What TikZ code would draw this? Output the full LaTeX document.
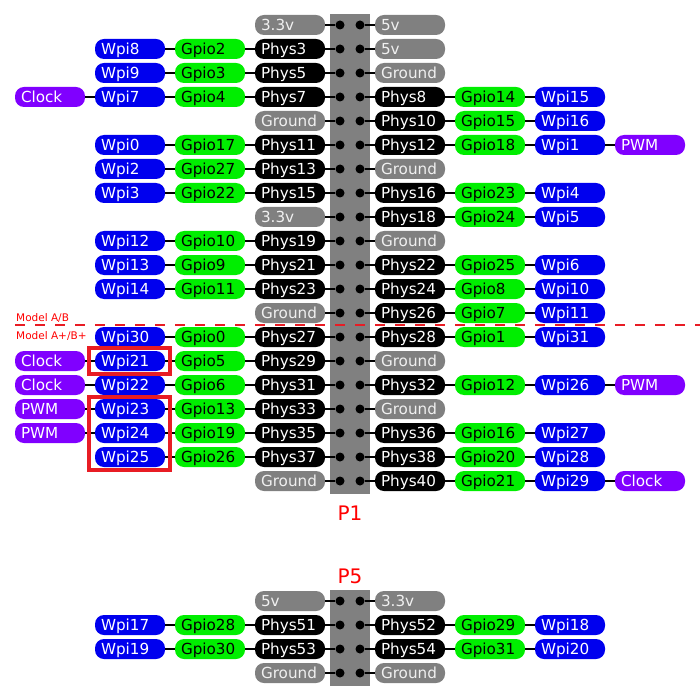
\documentclass[tikz,border=0pt]{standalone}
\usepackage{fontspec}
\setmainfont{DejaVu Sans}
\usetikzlibrary{calc}
\definecolor{cgray}{RGB}{128,128,128}
\definecolor{cgreen}{RGB}{0,238,0}
\definecolor{cblue}{RGB}{0,0,238}
\definecolor{cpurple}{RGB}{128,0,255}
\definecolor{cred}{RGB}{232,28,36}
\definecolor{ctxt}{RGB}{240,240,240}
\newcommand\pinside[4]{%
  \node[dot] (#1d) at ({350+10*#3},#2) {};
  \foreach \sty/\lab [count=\i] in {#4} {
    \pgfmathsetmacro\xx{350+#3*(60+80*(\i-1))}
    \node[\sty] (#1n\i) at (\xx,#2) {\lab};
    \pgfmathtruncatemacro\j{\i-1}
    \ifnum\i=1 \draw[wire] (#1d) -- (#1n\i); \else \draw[wire] (#1n\j) -- (#1n\i); \fi
  }%
}
\begin{document}
\begin{tikzpicture}[x=1pt,y=-1pt,
  box/.style={rectangle, rounded corners=9pt, minimum height=20pt, text width=58pt,
    align=left, inner xsep=6pt, inner ysep=0pt, text height=13pt, text depth=2pt,
    font=\fontsize{15.2pt}{18pt}\selectfont},
  pwr/.style={box, fill=cgray, text=ctxt},
  phys/.style={box, fill=black, text=white},
  gpio/.style={box, fill=cgreen, text=black},
  wpi/.style={box, fill=cblue, text=white},
  fn/.style={box, fill=cpurple, text=white},
  dot/.style={circle, fill=black, inner sep=0pt, minimum size=9pt},
  wire/.style={line width=2.5pt, black},
  redline/.style={draw=cred, line width=4pt},
  plabel/.style={text=red, font=\fontsize{20pt}{24pt}\selectfont, inner sep=0pt, anchor=base},
  mlabel/.style={text=red, font=\fontsize{10.5pt}{12pt}\selectfont, inner sep=0pt, anchor=base west}]
\useasboundingbox (0,0) rectangle (700,700);
\fill[cgray] (330,14) rectangle (370,494);
\fill[cgray] (330,590) rectangle (370,686);
% P1
\pinside{a1l}{25}{-1}{pwr/3.3v}
\pinside{a1r}{25}{1}{pwr/5v}
\pinside{a2l}{49}{-1}{phys/Phys3,gpio/Gpio2,wpi/Wpi8}
\pinside{a2r}{49}{1}{pwr/5v}
\pinside{a3l}{73}{-1}{phys/Phys5,gpio/Gpio3,wpi/Wpi9}
\pinside{a3r}{73}{1}{pwr/Ground}
\pinside{a4l}{97}{-1}{phys/Phys7,gpio/Gpio4,wpi/Wpi7,fn/Clock}
\pinside{a4r}{97}{1}{phys/Phys8,gpio/Gpio14,wpi/Wpi15}
\pinside{a5l}{121}{-1}{pwr/Ground}
\pinside{a5r}{121}{1}{phys/Phys10,gpio/Gpio15,wpi/Wpi16}
\pinside{a6l}{145}{-1}{phys/Phys11,gpio/Gpio17,wpi/Wpi0}
\pinside{a6r}{145}{1}{phys/Phys12,gpio/Gpio18,wpi/Wpi1,fn/PWM}
\pinside{a7l}{169}{-1}{phys/Phys13,gpio/Gpio27,wpi/Wpi2}
\pinside{a7r}{169}{1}{pwr/Ground}
\pinside{a8l}{193}{-1}{phys/Phys15,gpio/Gpio22,wpi/Wpi3}
\pinside{a8r}{193}{1}{phys/Phys16,gpio/Gpio23,wpi/Wpi4}
\pinside{a9l}{217}{-1}{pwr/3.3v}
\pinside{a9r}{217}{1}{phys/Phys18,gpio/Gpio24,wpi/Wpi5}
\pinside{a10l}{241}{-1}{phys/Phys19,gpio/Gpio10,wpi/Wpi12}
\pinside{a10r}{241}{1}{pwr/Ground}
\pinside{a11l}{265}{-1}{phys/Phys21,gpio/Gpio9,wpi/Wpi13}
\pinside{a11r}{265}{1}{phys/Phys22,gpio/Gpio25,wpi/Wpi6}
\pinside{a12l}{289}{-1}{phys/Phys23,gpio/Gpio11,wpi/Wpi14}
\pinside{a12r}{289}{1}{phys/Phys24,gpio/Gpio8,wpi/Wpi10}
\pinside{a13l}{313}{-1}{pwr/Ground}
\pinside{a13r}{313}{1}{phys/Phys26,gpio/Gpio7,wpi/Wpi11}
\pinside{a14l}{337}{-1}{phys/Phys27,gpio/Gpio0,wpi/Wpi30}
\pinside{a14r}{337}{1}{phys/Phys28,gpio/Gpio1,wpi/Wpi31}
\pinside{a15l}{361}{-1}{phys/Phys29,gpio/Gpio5,wpi/Wpi21,fn/Clock}
\pinside{a15r}{361}{1}{pwr/Ground}
\pinside{a16l}{385}{-1}{phys/Phys31,gpio/Gpio6,wpi/Wpi22,fn/Clock}
\pinside{a16r}{385}{1}{phys/Phys32,gpio/Gpio12,wpi/Wpi26,fn/PWM}
\pinside{a17l}{409}{-1}{phys/Phys33,gpio/Gpio13,wpi/Wpi23,fn/PWM}
\pinside{a17r}{409}{1}{pwr/Ground}
\pinside{a18l}{433}{-1}{phys/Phys35,gpio/Gpio19,wpi/Wpi24,fn/PWM}
\pinside{a18r}{433}{1}{phys/Phys36,gpio/Gpio16,wpi/Wpi27}
\pinside{a19l}{457}{-1}{phys/Phys37,gpio/Gpio26,wpi/Wpi25}
\pinside{a19r}{457}{1}{phys/Phys38,gpio/Gpio20,wpi/Wpi28}
\pinside{a20l}{481}{-1}{pwr/Ground}
\pinside{a20r}{481}{1}{phys/Phys40,gpio/Gpio21,wpi/Wpi29,fn/Clock}
% P5
\pinside{b1l}{601}{-1}{pwr/5v}
\pinside{b1r}{601}{1}{pwr/3.3v}
\pinside{b2l}{625}{-1}{phys/Phys51,gpio/Gpio28,wpi/Wpi17}
\pinside{b2r}{625}{1}{phys/Phys52,gpio/Gpio29,wpi/Wpi18}
\pinside{b3l}{649}{-1}{phys/Phys53,gpio/Gpio30,wpi/Wpi19}
\pinside{b3r}{649}{1}{phys/Phys54,gpio/Gpio31,wpi/Wpi20}
\pinside{b4l}{673}{-1}{pwr/Ground}
\pinside{b4r}{673}{1}{pwr/Ground}
% model separator
\coordinate (sepA) at (15,325);
\coordinate (sepB) at (700,325);
\draw[cred, line width=2.8pt, dash pattern=on 10pt off 10pt] (sepA) -- (sepB);
\node[mlabel] (mab) at (16,321) {Model A/B};
\node[mlabel] (mabp) at (16,339) {Model A+/B+};
% highlight boxes
\draw[redline] ($(a15ln3.north west)+(-6,-3)$) rectangle ($(a15ln3.south east)+(4.5,2.7)$);
\draw[redline] ($(a17ln3.north west)+(-6,-1.5)$) rectangle ($(a19ln3.south east)+(4.5,3)$);
% labels
\node[plabel] (p1) at (350,520) {P1};
\node[plabel] (p5) at (350,583) {P5};
\end{tikzpicture}
\end{document}
